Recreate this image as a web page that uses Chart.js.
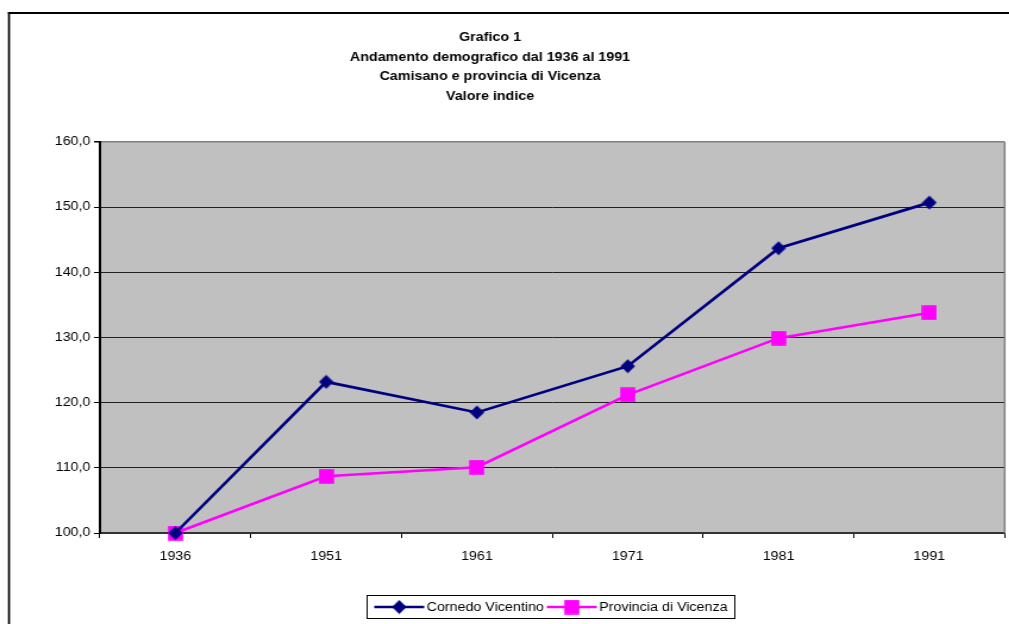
<!DOCTYPE html>
<html>
<head>
<meta charset="utf-8">
<script src="https://cdn.jsdelivr.net/npm/chart.js@4/dist/chart.umd.min.js"></script>
<style>
  html, body { margin: 0; padding: 0; background: #fff; overflow: hidden; }
  #wrap { position: absolute; left: 0; top: 0; width: 851px; height: 624px;
          transform: scaleX(1.19); transform-origin: 0 0; }
</style>
</head>
<body>
<div id="wrap"><canvas id="c"></canvas></div>
<script>
// Index values (1936 = 100)
const years = ['1936', '1951', '1961', '1971', '1981', '1991'];
const cornedo = [100.0, 123.2, 118.5, 125.6, 143.7, 150.7];
const provincia = [100.0, 108.7, 110.1, 121.2, 129.9, 133.8];
const seriesNames = ['Cornedo Vicentino', 'Provincia di Vicenza'];
const titleLines = ['Grafico 1', 'Andamento demografico dal 1936 al 1991',
                    'Camisano e provincia di Vicenza', 'Valore indice'];
const yMin = 100, yMax = 160, yStep = 10;

const FONT = '"Liberation Sans", Arial, sans-serif';
const NAVY = '#000080', MAGENTA = '#ff00ff';

// Marker glyphs (slightly narrower than tall, the page is widened by CSS)
function makeMarker(kind, color) {
  const c = document.createElement('canvas');
  c.width = 13; c.height = 15;
  const g = c.getContext('2d');
  g.fillStyle = color;
  if (kind === 'square') {
    g.fillRect(0.2, 0.2, 12.6, 14.6);
  } else {
    g.beginPath();
    g.moveTo(6.5, 0.4); g.lineTo(12.6, 7.5); g.lineTo(6.5, 14.6); g.lineTo(0.4, 7.5);
    g.closePath(); g.fill();
  }
  return c;
}
const diamond = makeMarker('diamond', NAVY);
const square = makeMarker('square', MAGENTA);

const frame = {
  id: 'frame',
  beforeDraw(chart) {
    const { ctx, chartArea: a } = chart;
    ctx.save();
    ctx.fillStyle = '#c0c0c0';
    ctx.fillRect(a.left, a.top, a.right - a.left, a.bottom - a.top);
    // outer chart border
    ctx.fillStyle = '#000';
    ctx.fillRect(6.7, 12, 1.7, chart.height);
    ctx.fillRect(6.7, 12, chart.width, 2);
    ctx.restore();
  },
  beforeDatasetsDraw(chart) {
    const { ctx, chartArea: a } = chart;
    ctx.save();
    ctx.strokeStyle = '#808080';
    ctx.lineWidth = 1.5;
    ctx.beginPath();
    ctx.moveTo(a.right, a.top); ctx.lineTo(a.right, a.bottom);
    ctx.stroke();
    ctx.restore();
  },
  afterDraw(chart) {
    const ctx = chart.ctx;
    ctx.save();
    // title
    ctx.fillStyle = '#000';
    ctx.font = 'bold 12px ' + FONT;
    ctx.textAlign = 'center';
    ctx.textBaseline = 'middle';
    titleLines.forEach((t, i) => ctx.fillText(t, 411.8, 37.5 + i * 19.7));
    // legend
    const L = 308.5, T = 595.5, W = 309, H = 23;
    ctx.strokeStyle = '#000';
    ctx.lineWidth = 1;
    ctx.strokeRect(L, T, W, H);
    ctx.font = '12px ' + FONT;
    ctx.textAlign = 'left';
    const cy = T + H / 2;
    let x = L + 6;
    chart.data.datasets.forEach(ds => {
      ctx.strokeStyle = ds.borderColor;
      ctx.lineWidth = 2.5;
      ctx.beginPath(); ctx.moveTo(x, cy); ctx.lineTo(x + 42, cy); ctx.stroke();
      const img = ds.pointStyle;
      ctx.drawImage(img, x + 21 - img.width / 2, cy - img.height / 2);
      ctx.fillStyle = '#000';
      ctx.fillText(ds.label, x + 44, cy + 0.5);
      x += 44 + ctx.measureText(ds.label).width + 2.5;
    });
    ctx.restore();
  }
};

Chart.defaults.font.family = FONT;
Chart.defaults.font.size = 12;
Chart.defaults.color = '#000';

new Chart(document.getElementById('c'), {
  type: 'line',
  data: {
    labels: years,
    datasets: [
      { label: seriesNames[0], data: cornedo, borderColor: NAVY, backgroundColor: NAVY,
        borderWidth: 2.7, pointStyle: diamond, clip: false, tension: 0 },
      { label: seriesNames[1], data: provincia, borderColor: MAGENTA, backgroundColor: MAGENTA,
        borderWidth: 2.5, pointStyle: square, clip: false, tension: 0 }
    ]
  },
  options: {
    responsive: true,
    maintainAspectRatio: false,
    animation: false,
    layout: { padding: { left: 0, top: 142, right: 2, bottom: 0 } },
    plugins: { legend: { display: false }, title: { display: false }, tooltip: { enabled: false } },
    scales: {
      x: {
        type: 'category',
        offset: true,
        grid: { offset: true, drawOnChartArea: false, drawTicks: true, tickLength: 5,
                tickColor: '#000', tickWidth: 1 },
        border: { display: true, color: '#333', width: 2 },
        ticks: { padding: 11, color: '#000', maxRotation: 0 },
        afterFit(s) { s.height = 91; }
      },
      y: {
        min: yMin, max: yMax,
        grid: {
          color: c => (c.tick && c.tick.value === yMax) ? '#808080' : '#202020',
          lineWidth: c => (c.tick && c.tick.value === yMax) ? 1.5 : 1,
          tickLength: 5, tickColor: '#000'
        },
        border: { display: true, color: '#000', width: 2 },
        ticks: { stepSize: yStep, padding: 3, color: '#000',
                 callback: v => v.toFixed(1).replace('.', ',') },
        afterFit(s) { s.width = 84; }
      }
    }
  },
  plugins: [frame]
});
</script>
</body>
</html>
